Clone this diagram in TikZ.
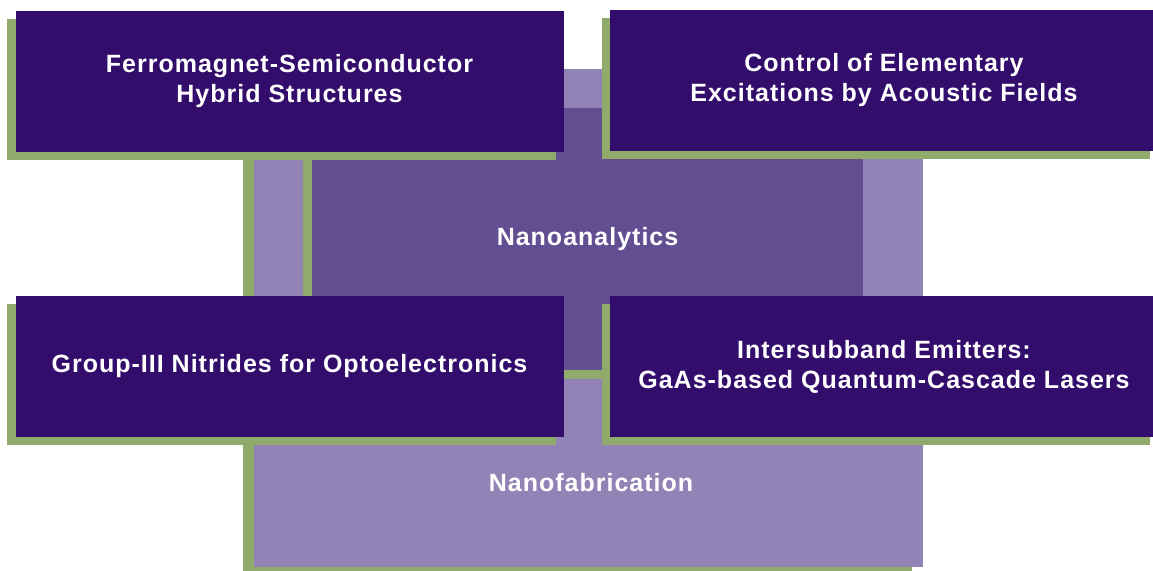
\documentclass[tikz,border=0pt]{standalone}
\usepackage{fontspec}
\setmainfont{Liberation Sans}[LetterSpace=4]
\usetikzlibrary{shadows}
\definecolor{deep}{RGB}{51,13,107}
\definecolor{mid}{RGB}{99,78,146}
\definecolor{pale}{RGB}{145,131,181}
\definecolor{leaf}{RGB}{143,170,106}
\begin{document}
\begin{tikzpicture}[x=1pt,y=-1pt,
  labeltext/.style={text=white,font=\bfseries\fontsize{25}{30}\selectfont,align=center},
  panel/.style={rectangle,inner sep=0pt,outer sep=0pt,labeltext,
    drop shadow={shadow xshift=-#1pt,shadow yshift=-#1pt,fill=leaf,opacity=1}},
  topic/.style={panel=8,fill=deep,minimum width=548pt,minimum height=141pt,
    drop shadow={shadow xshift=-8.5pt,shadow yshift=-7.5pt,fill=leaf,opacity=1}}]
\useasboundingbox (0,0) rectangle (1153,570);
\clip (0,0) rectangle (1153,570);

% background layer: fabrication and analytics blocks
\node[panel=11,fill=pale,minimum width=669pt,minimum height=498pt] (fab) at (588.5,318) {};
\node[labeltext] (fablabel) at (591,483) {Nanofabrication};
\node[panel=9,fill=mid,minimum width=551pt,minimum height=262pt] (analytics) at (587.5,239) {Nanoanalytics};

% four research topics on top
\node[topic] (ferro) at (289.5,81.5) {Ferromagnet-Semiconductor\\Hybrid Structures};
\node[topic] (control) at (884,80.5) {Control of Elementary\\Excitations by Acoustic Fields};
\node[topic] (nitride) at (289.5,366.5) {Group-III Nitrides for Optoelectronics};
\node[topic] (qcl) at (884,366.5) {Intersubband Emitters:\\GaAs-based Quantum-Cascade Lasers};
\end{tikzpicture}
\end{document}
